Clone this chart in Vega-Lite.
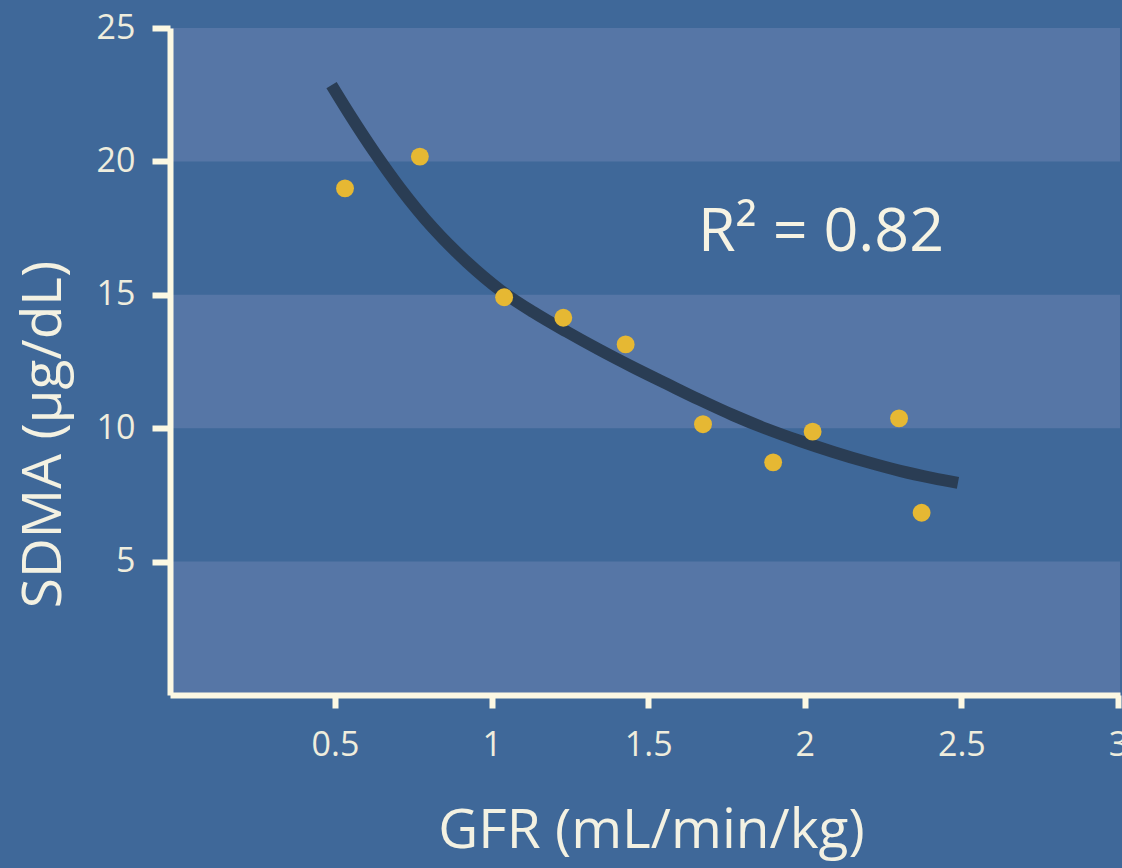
{
  "$schema": "https://vega.github.io/schema/vega-lite/v6.json",
  "autosize": "none",
  "width": 950,
  "height": 667,
  "padding": {"left": 170, "top": 28, "right": 2, "bottom": 173},
  "background": "#3f6899",
  "config": {
    "view": {"stroke": null},
    "font": "Open Sans",
    "axis": {
      "grid": false,
      "zindex": 2,
      "domainColor": "#fcf8e3",
      "domainWidth": 6,
      "tickColor": "#fcf8e3",
      "tickWidth": 6,
      "labelFont": "Open Sans",
      "labelFontSize": 34,
      "labelColor": "#efeddd",
      "labelFlush": false,
      "labelOverlap": false,
      "titleFont": "Open Sans",
      "titleFontSize": 55,
      "titleFontWeight": "normal",
      "titleColor": "#f3f1e2"
    }
  },
  "datasets": {
    "bands": [
      {"lo": 0, "hi": 5},
      {"lo": 10, "hi": 15},
      {"lo": 20, "hi": 25}
    ],
    "points": [
      {"gfr": 0.532, "sdma": 18.99},
      {"gfr": 0.771, "sdma": 20.18},
      {"gfr": 1.040, "sdma": 14.91},
      {"gfr": 1.229, "sdma": 14.14},
      {"gfr": 1.428, "sdma": 13.14},
      {"gfr": 1.675, "sdma": 10.15},
      {"gfr": 1.899, "sdma": 8.72},
      {"gfr": 2.025, "sdma": 9.87},
      {"gfr": 2.301, "sdma": 10.37},
      {"gfr": 2.373, "sdma": 6.83}
    ],
    "curve": [
      {"gfr": 0.489, "sdma": 22.86},
      {"gfr": 0.548, "sdma": 21.74},
      {"gfr": 0.628, "sdma": 20.31},
      {"gfr": 0.708, "sdma": 19.00},
      {"gfr": 0.813, "sdma": 17.50},
      {"gfr": 0.921, "sdma": 16.23},
      {"gfr": 1.027, "sdma": 15.18},
      {"gfr": 1.132, "sdma": 14.36},
      {"gfr": 1.241, "sdma": 13.61},
      {"gfr": 1.346, "sdma": 12.93},
      {"gfr": 1.451, "sdma": 12.29},
      {"gfr": 1.560, "sdma": 11.66},
      {"gfr": 1.665, "sdma": 11.06},
      {"gfr": 1.771, "sdma": 10.49},
      {"gfr": 1.879, "sdma": 9.97},
      {"gfr": 1.985, "sdma": 9.52},
      {"gfr": 2.091, "sdma": 9.11},
      {"gfr": 2.199, "sdma": 8.73},
      {"gfr": 2.304, "sdma": 8.40},
      {"gfr": 2.409, "sdma": 8.13},
      {"gfr": 2.489, "sdma": 7.95}
    ],
    "label": [
      {"gfr": 1.659, "sdma": 16.64, "text": "R² = 0.82"}
    ]
  },
  "layer": [
    {
      "data": {"name": "bands"},
      "mark": {"type": "rect", "color": "#5676a6"},
      "encoding": {
        "x": {"value": 0},
        "x2": {"value": "width"},
        "y": {
          "field": "lo", "type": "quantitative", "title": "SDMA (µg/dL)",
          "scale": {"domain": [0, 25], "nice": false, "zero": false},
          "axis": {
            "zindex": 2,
            "values": [5, 10, 15, 20, 25],
            "format": "~g",
            "domainWidth": 6,
            "tickWidth": 6,
            "tickSize": 18,
            "labelPadding": 17,
            "titleAngle": 270,
            "titleX": -110,
            "titleY": 406,
            "titleAlign": "center",
            "titleBaseline": "alphabetic"
          }
        },
        "y2": {"field": "hi"}
      }
    },
    {
      "data": {"name": "curve"},
      "mark": {"type": "line", "color": "#2a3d54", "strokeWidth": 12, "strokeCap": "butt", "interpolate": "monotone"},
      "encoding": {
        "x": {"field": "gfr", "type": "quantitative", "title": "GFR (mL/min/kg)", "scale": {"domain": [-0.0268, 3.0064], "nice": false, "zero": false}, "axis": {"zindex": 2}},
        "y": {"field": "sdma", "type": "quantitative", "title": "SDMA (µg/dL)", "scale": {"domain": [0, 25], "nice": false, "zero": false}, "axis": {"zindex": 2}}
      }
    },
    {
      "data": {"name": "points"},
      "mark": {"type": "circle", "color": "#e6b833", "opacity": 1, "size": 320},
      "encoding": {
        "x": {
          "field": "gfr", "type": "quantitative", "title": "GFR (mL/min/kg)",
          "scale": {"domain": [-0.0268, 3.0064], "nice": false, "zero": false},
          "axis": {
            "zindex": 2,
            "values": [0.5, 1, 1.5, 2, 2.5, 3],
            "format": "~g",
            "domainWidth": 6,
            "tickWidth": 6,
            "tickSize": 13,
            "labelBaseline": "alphabetic",
            "labelPadding": 47,
            "titleX": 481,
            "titleY": 152,
            "titleAlign": "center",
            "titleBaseline": "alphabetic"
          }
        },
        "y": {"field": "sdma", "type": "quantitative", "title": "SDMA (µg/dL)", "scale": {"domain": [0, 25], "nice": false, "zero": false}, "axis": {"zindex": 2}}
      }
    },
    {
      "data": {"name": "label"},
      "mark": {"type": "text", "align": "left", "baseline": "alphabetic", "font": "Open Sans", "fontSize": 61, "color": "#f6f3e3"},
      "encoding": {
        "x": {"field": "gfr", "type": "quantitative", "title": "GFR (mL/min/kg)", "scale": {"domain": [-0.0268, 3.0064], "nice": false, "zero": false}, "axis": {"zindex": 2}},
        "y": {"field": "sdma", "type": "quantitative", "title": "SDMA (µg/dL)", "scale": {"domain": [0, 25], "nice": false, "zero": false}, "axis": {"zindex": 2}},
        "text": {"field": "text"}
      }
    }
  ]
}
